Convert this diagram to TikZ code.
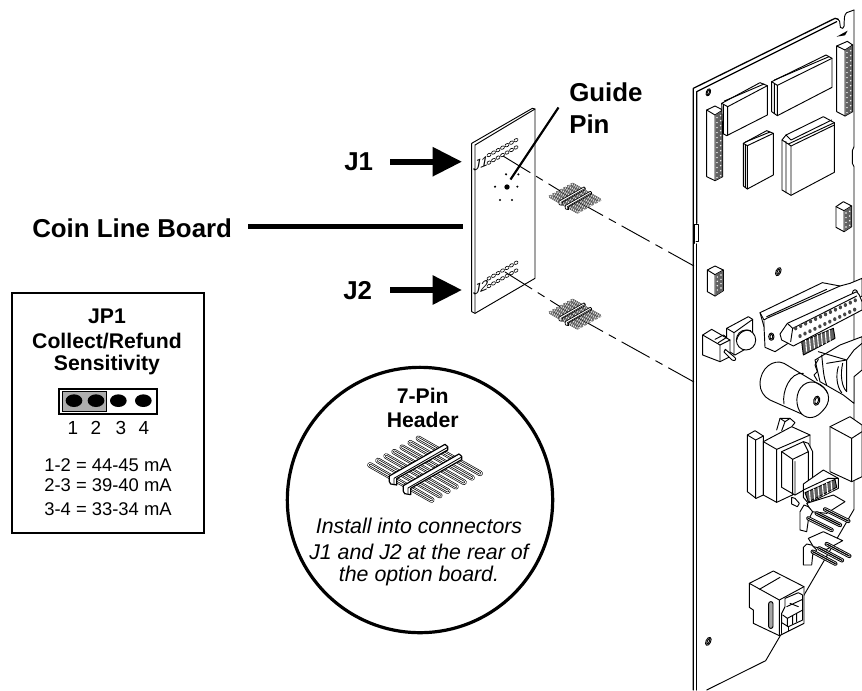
\documentclass[tikz,border=0pt]{standalone}
\usepackage{fontspec}
\setmainfont{Liberation Sans}
\usetikzlibrary{arrows.meta}
\tikzset{
  zone/.style 2 args={shift={(#1,#2)},x=0.25pt,y=-0.25pt},
  ink/.style={line width=0.7pt,line join=round,line cap=round},
  part/.style={ink,fill=white},
  darkpart/.style={ink,fill=black!62},
  heavy/.style={line width=3.4pt},
  arrowbar/.style={line width=4.3pt,-{Triangle[length=22pt,width=21pt]}},
  boldlabel/.style={font=\fontsize{19.4pt}{23pt}\selectfont\bfseries,inner sep=0pt},
  panelhead/.style={font=\fontsize{15.9pt}{18pt}\selectfont\bfseries,inner sep=0pt},
  paneltext/.style={font=\fontsize{13.8pt}{16pt}\selectfont,inner sep=0pt},
  digit/.style={font=\fontsize{14.2pt}{16pt}\selectfont,inner sep=0pt},
  note/.style={font=\fontsize{16pt}{19pt}\selectfont\itshape,inner sep=0pt},
  explode/.style={line width=0.7pt,dash pattern=on 24pt off 5pt on 6pt off 5pt},
  tinylabel/.style={inner sep=0pt,font=\fontsize{10.5pt}{11pt}\selectfont\itshape,yslant=0.4,transform shape},
  pinhole/.style={line width=0.5pt},
}
% a 7-pin header
\newcommand{\sevenpin}[2]{%
\begin{scope}[shift={#1},scale=#2,x=0.25pt,y=-0.25pt]
\begin{scope}[shift={(-465,-370)}]
\foreach \i in {0,...,6}{
  \coordinate (pa) at ({300+24.2*\i},{345-13.3*\i});
  \coordinate (pb) at ({485+24.2*\i},{450-13.3*\i});
  \draw[line cap=round,line width=1.2pt+#2*2.9pt,black] (pa)--(pb);
  \draw[line cap=round,line width=0.9pt+#2*2.2pt,white] (pa)--(pb);
  \draw[line cap=round,line width=0.5pt+#2*1.4pt,black] (pa)--(pb);
  \draw[line cap=round,line width=0.2pt+#2*0.6pt,white] (pa)--(pb);
}
\foreach \d in {0,1}{
  \begin{scope}[shift={({42*\d},{29*\d})}]
  \draw[fill=white,line width=#2*0.7pt+0.2pt,line join=round]
    (358,378)--(525,283)--(533,290)--(533,300)--(380,386)--(380,405)--(362,402)--(358,395)--cycle;
  \draw[line width=#2*0.5pt+0.15pt] (372,385)--(533,292) (372,385)--(372,402);
  \end{scope}
}
\end{scope}
\end{scope}}
% side of a pin strip: dark with rows of light dots
\newcommand{\stripdots}[7]{% x1 x2 ytop1 ytop2 rows  (sloped), #6 step  #7 dot
\foreach \k in {1,...,#5}{
  \fill[white] ({#1},{#3+#6*\k}) circle[radius=#7];
  \fill[white] ({#2},{#4+#6*\k}) circle[radius=#7];
}}
\begin{document}
\begin{tikzpicture}[x=0.75pt,y=-0.75pt]
\useasboundingbox (0,0) rectangle (862,690);

% ------------ main board outline
\begin{scope}[zone={660}{0}]
  \draw[ink,line width=0.95pt] (100,2070)--(100,265)--(525,55)--(535,58);
  \draw[ink,line width=0.95pt] (110,670)--(110,275)--(530,65);
  \draw[ink,line width=0.95pt] (110,732)--(110,2070);
  \draw[ink] (104,730)--(104,672)--(116,672)--(116,725)--(108,725);
  \draw[ink] (532,57) .. controls (547,60) and (533,88) .. (548,85) .. controls (558,83) and (546,50) .. (560,38) -- (582,30);
  \fill (530,110)--(563,92)--(555,106)--cycle;
  \draw[ink] (582,30)--(582,440) .. controls (577,445) .. (577,452)--(577,490) .. controls (577,496) .. (582,500)--(582,1528)--(317,1982)--(140,2070);
  \draw[ink] (145,277) circle[x radius=6,y radius=11,rotate=-20];
  \draw[ink] (145,277) circle[x radius=3,y radius=8,rotate=-20];
  % left strip
  \draw[part] (140,330)--(165,318)--(188,330)--(188,530)--(165,542)--(140,530)--cycle;
  \draw[ink] (140,330)--(165,345)--(165,542) (165,345)--(188,330);
  \fill[black!62] (166,345)--(187,332)--(187,530)--(166,541)--cycle;
  \stripdots{171}{182}{338}{332}{13}{15}{2.4}
  % chips
  \draw[part] (185,310)--(300,248)--(322,257)--(322,345)--(200,407)--(188,400)--cycle;
  \draw[ink] (185,310)--(203,320)--(322,257) (193,303)--(312,252) (190,316)--(190,402) (203,320)--(203,406);
  \draw[part] (335,245)--(498,165)--(516,175)--(516,262)--(352,347)--(335,335)--cycle;
  \draw[ink] (335,245)--(352,256)--(516,175) (343,240)--(507,170) (343,250)--(343,341) (352,256)--(352,347);
  \draw[part] (250,430)--(320,392)--(340,400)--(340,525)--(262,567)--(250,558)--cycle;
  \draw[ink] (250,430)--(262,437)--(340,400) (256,426)--(330,396) (256,434)--(256,562) (262,437)--(262,567);
  \draw[part] (366,420)--(378,405)--(490,350)--(523,368)--(523,517)--(393,586)--(366,570)--cycle;
  \draw[ink] (366,420)--(385,432)--(523,368) (378,405)--(393,420)--(515,360) (385,432)--(393,438)--(523,375) (393,438)--(393,586) (378,425)--(378,578);
  % right strip
  \draw[part] (530,138)--(562,124)--(578,135)--(578,335)--(555,348)--(530,335)--cycle;
  \draw[ink] (530,138)--(555,150)--(555,348) (555,150)--(578,135);
  \fill[black!62] (556,150)--(577,137)--(577,335)--(556,347)--cycle;
  \stripdots{561}{572}{143}{137}{13}{15}{2.4}
  % small strip
  \draw[part] (528,620)--(550,605)--(575,618)--(575,680)--(552,695)--(528,682)--cycle;
  \draw[ink] (528,620)--(552,632)--(552,695) (552,632)--(575,618);
  \fill[black!62] (553,632)--(574,620)--(574,680)--(553,694)--cycle;
  \stripdots{558}{569}{625}{620}{4}{14}{2.4}
\end{scope}

% ------------ middle region
\begin{scope}[zone={660}{260}]
  \draw[ink] (355,35) circle[x radius=7,y radius=13,rotate=-25];
  \draw[ink] (355,35) circle[x radius=3,y radius=9,rotate=-25];
  \draw[part] (142,30)--(165,18)--(190,30)--(190,92)--(165,108)--(142,95)--cycle;
  \draw[ink] (142,30)--(165,44)--(165,108) (165,44)--(190,30);
  \fill[black!62] (166,44)--(189,32)--(189,92)--(166,107)--cycle;
  \stripdots{172}{183}{38}{32}{4}{13}{2.4}
  % toggle block + button
  \draw[part] (200,205)--(265,170)--(278,178)--(278,255)--(225,285)--(200,270)--cycle;
  \draw[ink] (200,205)--(222,218)--(278,178) (222,218)--(222,285);
  \draw[part] (258,240) circle[x radius=29,y radius=30];
  \draw[ink] (230,240) .. controls (235,215) and (262,205) .. (272,212);
  \draw[part] (128,225)--(155,208)--(210,240)--(210,290)--(180,305)--(128,285)--cycle;
  \draw[ink] (128,225)--(180,255)--(180,305) (180,255)--(210,240) (165,238)--(190,225)--(200,232)--(175,248);
  \draw[part] (196,268)--(222,290) .. controls (232,297) and (226,305) .. (216,300)--(192,276)--cycle;
  % capacitor
  \draw[part] (300,372) .. controls (300,325) and (340,295) .. (372,310)--(480,375) .. controls (515,395) and (510,430) .. (490,450) .. controls (470,475) and (445,480) .. (425,462)--(330,420) .. controls (310,410) and (300,390) .. (300,372)--cycle;
  \draw[ink] (372,432) .. controls (365,395) and (390,335) .. (430,340);
  \draw[ink] (425,462) .. controls (405,440) and (405,395) .. (430,375) .. controls (455,355) and (490,370) .. (503,400);
  \draw[ink] (470,422) circle[x radius=9,y radius=14,rotate=-15];
  \draw[ink] (470,422) circle[x radius=5,y radius=10,rotate=-15];
  % ribbon / cage behind the D connector
  \draw[part] (465,300)--(540,255)--(606,230)--(606,330)--(582,350)--(582,430)--(550,405)--(480,365)--cycle;
  \draw[ink] (475,275)--(560,300)--(582,270)--(606,250) (500,310)--(560,300)--(560,395) (535,320) .. controls (527,345) and (530,380) .. (545,398) (548,310) .. controls (540,345) and (545,380) .. (560,395) (485,285) .. controls (490,330) and (490,350) .. (500,375);
  \draw[ink] (475,298)--(465,315)--(472,335)--(462,345)--(472,362);
  % D-sub
  \draw[part] (300,158)--(487,68)--(540,78)--(570,70)--(606,55)--(606,108)--(345,275)--(315,262)--(312,200)--cycle;
  \draw[ink] (300,158)--(312,180)--(320,175)--(540,78) (312,185)--(312,200) (320,170)--(500,88);
  \draw[part] (334,230) circle[x radius=8,y radius=11];
  \draw[ink] (334,230) circle[x radius=4,y radius=7];
  \draw[part] (585,100) circle[x radius=8,y radius=11];
  \draw[part] (360,222)--(382,190)--(590,95)--(598,105)--(606,125)--(606,150)--(400,258)--(365,240)--cycle;
  \draw[ink] (382,190)--(398,205)--(590,108) (398,205)--(392,245);
  \foreach \k in {0,...,12} \fill[black!72] ({407+14.9*\k},{205-7.0*\k}) circle[x radius=5,y radius=6];
  \foreach \k in {0,...,11} \fill[black!72] ({420+14.9*\k},{228-7.2*\k}) circle[x radius=5,y radius=6];
  \draw[darkpart] (425,245)--(520,205)--(525,235)--(430,285)--cycle;
  \foreach \k in {1,...,7} \draw[white,line width=0.8pt] ({425+\k*11.8},{245-\k*5}) -- ++(3,{35});
\end{scope}

% ------------ lower connectors, transformer and block
\begin{scope}[zone={740}{410}]
  % right block
  \draw[part] (270,50)--(330,20)--(366,45)--(366,200)--(335,215)--(270,185)--cycle;
  \draw[ink] (270,50)--(335,85)--(366,65) (335,85)--(335,215);
  % narrow block
  \draw[part] (22,75)--(45,62)--(70,78)--(70,255)--(48,265)--(22,245)--cycle;
  \draw[ink] (22,75)--(47,90)--(47,265) (47,90)--(70,78);
  % transformer tab
  \draw[part] (110,60)--(120,25)--(150,25)--(165,38)--(155,50);
  \draw[ink] (120,25)--(135,35)--(150,25) (135,35)--(125,62);
  % transformer
  \draw[part] (70,95)--(155,50)--(210,75)--(210,230)--(110,277)--(70,255)--cycle;
  \draw[ink] (70,95)--(110,118)--(210,75) (110,118)--(110,277);
  \draw[part] (125,125)--(190,95)--(205,100)--(218,125)--(218,225)--(165,255)--(125,232)--cycle;
  \draw[ink] (125,125)--(158,148)--(158,255) (158,148)--(205,125) (190,95)--(205,125)--(205,232) (165,155)--(165,255);
  % comb connector
  \draw[part] (190,222)--(250,180)--(295,205)--(295,235)--(205,280)--(190,262)--cycle;
  \draw[ink] (190,240)--(265,205)--(295,205);
  \draw[darkpart] (195,248)--(285,208)--(290,232)--(205,276)--cycle;
  \foreach \k in {1,...,6} \draw[white,line width=0.8pt] ({195+\k*13},{248-\k*6}) -- ++(3,32);
  \draw[part] (155,262)--(165,265)--(178,280)--(172,290)--(155,282)--cycle;
\end{scope}

\begin{scope}[zone={660}{470}]
  % upper angled header
  \draw[part] (440,100)--(520,75)--(555,95)--(500,130)--(455,125)--cycle;
  \draw[part] (420,125)--(432,105)--(445,110)--(458,125)--(445,150)--(440,185)--(420,180)--cycle;
  \foreach \a/\b in {445/145,470/130,495/118}{
    \draw[line width=3.2pt,line cap=round] (\a,\b)--++(70,35);
    \draw[line width=1.8pt,line cap=round,white] (\a,\b)--++(70,35);
    \draw[line width=.9pt,line cap=round] (\a,\b)--++(70,35);
  }
  % lower angled header
  \draw[part] (445,205)--(490,185)--(548,212)--(500,238)--(460,230)--cycle;
  \draw[part] (430,232)--(440,222)--(455,225)--(470,240)--(458,255)--(455,285)--(430,285)--cycle;
  \foreach \a/\b in {458/245,478/235,500/222}{
    \draw[line width=3.2pt,line cap=round] (\a,\b)--++(68,36);
    \draw[line width=1.8pt,line cap=round,white] (\a,\b)--++(68,36);
    \draw[line width=.9pt,line cap=round] (\a,\b)--++(68,36);
  }
  % jack
  \draw[part] (268,340)--(340,303)--(432,350)--(432,460)--(358,497)--(280,460)--(280,420)--(268,412)--cycle;
  \draw[ink] (268,340)--(358,390)--(432,350) (358,390)--(358,497) (298,358)--(360,322);
  \draw[ink,rounded corners=1.5pt,fill=black!35] (326,395)--(339,395)--(339,475)--(326,475)--cycle;
  \draw[ink] (375,385)--(415,368)--(428,375)--(428,440) (375,385)--(375,410)--(365,430)--(365,458)--(385,470)--(428,450)--(428,440);
  \draw[ink] (380,410)--(428,388) (390,400)--(415,410) (368,435)--(382,445)--(428,420) (382,445)--(382,470) (398,438)--(398,462) (410,432)--(410,455);
  \draw[ink] (365,458)--(365,490) (385,470)--(385,482);
  % bottom hole
  \draw[ink] (145,514) circle[x radius=7,y radius=13,rotate=-25];
  \draw[ink] (145,514) circle[x radius=3,y radius=9,rotate=-25];
\end{scope}

% ------------ exploded lines
\coordinate (jonestart) at (503,156);
\coordinate (jtwostart) at (505,272);
\coordinate (hone) at (575,200);
\coordinate (htwo) at (575,316);
\coordinate (bone) at (694,266);
\coordinate (btwo) at (694,382);

% ------------ option board
\begin{scope}[zone={440}{60}]
  \draw[ink,fill=white] (95,250)--(277,145)--(285,147)--(285,655)--(105,760)--(95,755)--cycle;
  \draw[ink] (105,255)--(285,147) (105,255)--(105,760);
  \foreach \k in {0,...,6}{
    \draw[pinhole] ({147+13.5*\k},{285-7.4*\k}) circle[x radius=6.5,y radius=4.5,rotate=30];
    \draw[pinhole] ({147+13.5*\k},{308-7.6*\k}) circle[x radius=6.5,y radius=4.5,rotate=30];
    \draw[pinhole] ({147+13.5*\k},{655-7.8*\k}) circle[x radius=6.5,y radius=4.5,rotate=30];
    \draw[pinhole] ({147+13.5*\k},{678-7.7*\k}) circle[x radius=6.5,y radius=4.5,rotate=30];
  }
  \foreach \x/\y in {198/343,235/343,165/380,232/380,180/420,216/420}
    \fill (\x,\y) circle[radius=3.5];
  \fill (201,381) circle[radius=8];
  \node[tinylabel] (jonelabel) at (122,310) {J1};
  \node[tinylabel] (jtwolabel) at (122,684) {J2};
\end{scope}

\draw[explode] (jonestart)--(hone);
\draw[explode] (jtwostart)--(htwo);
\draw[explode] (hone)--(bone);
\draw[explode] (htwo)--(btwo);
\sevenpin{(hone)}{0.45}
\sevenpin{(htwo)}{0.45}

% ------------ labels on the left
\node[boldlabel,anchor=west] (guideone) at (569,92) {Guide};
\node[boldlabel,anchor=west] (guidetwo) at (569,124) {Pin};
\coordinate (guidetail) at (558.5,107.5);
\coordinate (guidetip) at (510.5,179.5);
\draw[line width=1.6pt] (guidetail)--(guidetip);

\node[boldlabel,anchor=west] (jone) at (344,162) {J1};
\node[boldlabel,anchor=west] (jtwo) at (343,291) {J2};
\node[boldlabel,anchor=west] (coin) at (32,228) {Coin Line Board};
\coordinate (coinend) at (463,226.7);
\coordinate (coinstart) at (248,226.7);
\draw[heavy] (coinstart)--(coinend);
\coordinate (ja) at (390,161.7);
\coordinate (jb) at (462,161.7);
\coordinate (jc) at (390,290);
\coordinate (jd) at (462,290);
\draw[arrowbar] (ja)--(jb);
\draw[arrowbar] (jc)--(jd);

% ------------ JP1 panel
\node[draw,line width=1.3pt,minimum width=144pt,minimum height=180pt,inner sep=0pt] (panel) at (108,413) {};
\node[panelhead] (pone) at (107,316) {JP1};
\node[panelhead] (ptwo) at (107,341) {Collect/Refund};
\node[panelhead] (pthree) at (107,365) {Sensitivity};
\begin{scope}[zone={0}{285}]
  \draw[line width=1.3pt,fill=white] (178,312) rectangle (470,387);
  \draw[line width=1.1pt,fill=black!32] (188,320) rectangle (320,380);
  \foreach \x in {222,288,355,430} \fill (\x,347) circle[x radius=25,y radius=19];
\end{scope}
\node[digit] (done) at (73,428) {1};
\node[digit] (dtwo) at (96,428) {2};
\node[digit] (dthree) at (121,428) {3};
\node[digit] (dfour) at (144,428) {4};
\node[paneltext] (lone) at (108,465.5) {1-2 = 44-45 mA};
\node[paneltext] (ltwo) at (108,485.5) {2-3 = 39-40 mA};
\node[paneltext] (lthree) at (108,509) {3-4 = 33-34 mA};

% ------------ detail circle
\node[draw,circle,line width=2.4pt,minimum size=199pt,inner sep=0pt] (detail) at (420,500) {};
\node[panelhead] (hdone) at (422.7,396) {7-Pin};
\node[panelhead] (hdtwo) at (422.7,420) {Header};
\sevenpin{(425,473.3)}{1}
\node[note] (nlone) at (419,526) {Install into connectors};
\node[note] (nltwo) at (419,552) {J1 and J2 at the rear of};
\node[note] (nlthree) at (419,576) {the option board.};
\end{tikzpicture}
\end{document}
